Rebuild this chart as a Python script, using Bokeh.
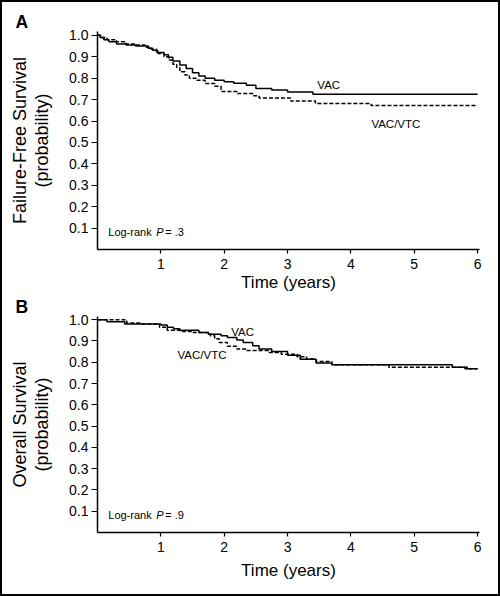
from bokeh.plotting import figure
from bokeh.layouts import column
from bokeh.models import Label, FixedTicker, Range1d, NumeralTickFormatter, Title, Spacer
from bokeh.embed import file_html
from bokeh.resources import INLINE

# ---- data ----
year_ticks = [1, 2, 3, 4, 5, 6]
prob_ticks = [0.1, 0.2, 0.3, 0.4, 0.5, 0.6, 0.7, 0.8, 0.9, 1.0]

# Panel A: failure-free survival
ffs_vac_t = [0, 0.04, 0.1, 0.18, 0.3, 0.45, 0.6, 0.8, 0.87, 0.95, 1.05, 1.12, 1.19, 1.3, 1.4,
             1.5, 1.6, 1.7, 1.85, 2.0, 2.15, 2.35, 2.5, 2.75, 3.0, 3.4, 6.0]
ffs_vac_s = [1.0, 0.99, 0.98, 0.97, 0.96, 0.955, 0.95, 0.94, 0.93, 0.92, 0.91, 0.898, 0.88, 0.862,
             0.845, 0.825, 0.81, 0.80, 0.79, 0.783, 0.776, 0.767, 0.752, 0.745, 0.736, 0.725, 0.725]
ffs_vtc_t = [0, 0.05, 0.15, 0.3, 0.45, 0.6, 0.75, 0.85, 0.93, 1.05, 1.12, 1.19, 1.25, 1.3, 1.38,
             1.45, 1.57, 1.7, 1.85, 1.95, 2.2, 2.45, 2.55, 3.05, 3.44, 4.32, 6.0]
ffs_vtc_s = [1.0, 0.99, 0.98, 0.97, 0.96, 0.955, 0.945, 0.935, 0.915, 0.9, 0.885, 0.865, 0.85, 0.83,
             0.815, 0.80, 0.79, 0.775, 0.762, 0.738, 0.728, 0.718, 0.708, 0.693, 0.682, 0.673, 0.673]

# Panel B: overall survival
os_vac_t = [0, 0.15, 0.43, 1.0, 1.1, 1.2, 1.3, 1.6, 1.75, 1.95, 2.05, 2.2, 2.3, 2.45, 2.55, 2.75,
            3.0, 3.2, 3.45, 3.7, 5.6, 5.8, 6.0]
os_vac_s = [1.0, 0.99, 0.98, 0.975, 0.965, 0.958, 0.95, 0.94, 0.932, 0.925, 0.916, 0.905, 0.893,
            0.877, 0.862, 0.85, 0.833, 0.814, 0.797, 0.788, 0.777, 0.769, 0.769]
os_vtc_t = [0, 0.46, 0.7, 0.98, 1.1, 1.3, 1.5, 1.78, 1.85, 1.92, 2.05, 2.2, 2.35, 2.7, 2.9, 3.15,
            3.3, 3.45, 3.7, 4.6, 5.85, 6.0]
os_vtc_s = [1.0, 0.985, 0.98, 0.965, 0.95, 0.945, 0.94, 0.924, 0.91, 0.893, 0.875, 0.862, 0.855,
            0.846, 0.838, 0.826, 0.815, 0.803, 0.788, 0.776, 0.769, 0.769]

FONT = "Liberation Sans"


def make_panel(height, top, bottom, ymax, letter, ylabel, vac_t, vac_s, vtc_t, vtc_s,
               vac_pos, vtc_pos, pval, xlabel_standoff):
    p = figure(width=496, height=height, output_backend="svg", toolbar_location=None,
               x_range=Range1d(0, 6.03), y_range=Range1d(0, ymax),
               min_border_left=95, min_border_right=19, min_border_top=top,
               min_border_bottom=bottom)
    p.title = Title(text=letter, align="left", offset=-82, standoff=0,
                    text_font=FONT, text_font_size="17.5px", text_font_style="bold",
                    text_color="black")
    p.outline_line_color = None
    p.grid.visible = False
    p.background_fill_color = "white"
    p.border_fill_color = "white"

    p.step(vac_t, vac_s, mode="after", line_color="black", line_width=1.5)
    p.step(vtc_t, vtc_s, mode="after", line_color="black", line_width=1.5, line_dash="4 2")

    xa = p.xaxis[0]
    xa.ticker = FixedTicker(ticks=year_ticks)
    xa.minor_tick_line_color = None
    xa.major_tick_in = 0
    xa.major_tick_out = 4
    xa.axis_line_width = 1.5
    xa.major_tick_line_width = 1.2
    xa.major_label_standoff = 5
    xa.major_label_text_font = FONT
    xa.major_label_text_font_size = "14px"
    xa.major_label_text_color = "black"
    xa.axis_label = "Time (years)"
    xa.axis_label_text_font = FONT
    xa.axis_label_text_font_size = "17px"
    xa.axis_label_text_font_style = "normal"
    xa.axis_label_text_color = "black"
    xa.axis_label_standoff = xlabel_standoff

    ya = p.yaxis[0]
    ya.ticker = FixedTicker(ticks=prob_ticks)
    ya.formatter = NumeralTickFormatter(format="0.0")
    ya.minor_tick_line_color = None
    ya.major_tick_in = 0
    ya.major_tick_out = 6
    ya.axis_line_width = 1.5
    ya.major_tick_line_width = 1.2
    ya.major_label_standoff = 3
    ya.major_label_text_font = FONT
    ya.major_label_text_font_size = "14px"
    ya.major_label_text_color = "black"
    ya.axis_label = ylabel
    ya.axis_label_text_font = FONT
    ya.axis_label_text_font_size = "18px"
    ya.axis_label_text_font_style = "normal"
    ya.axis_label_text_color = "black"
    ya.axis_label_text_line_height = 1.1
    ya.axis_label_standoff = 14

    # curve labels
    p.add_layout(Label(x=vac_pos[0], y=vac_pos[1], text="VAC", text_align="center",
                       text_baseline="middle", text_font=FONT, text_font_size="11.5px",
                       text_color="black"))
    p.add_layout(Label(x=vtc_pos[0], y=vtc_pos[1], text="VAC/VTC", text_align="center",
                       text_baseline="middle", text_font=FONT, text_font_size="11.5px",
                       text_color="black"))
    # log-rank annotation
    p.add_layout(Label(x=0.17, y=0.083, text="Log-rank", text_align="left",
                       text_baseline="middle", text_font=FONT, text_font_size="11px",
                       text_color="black"))
    p.add_layout(Label(x=0.17, y=0.083, x_offset=48, text="P", text_align="left",
                       text_baseline="middle", text_font=FONT, text_font_size="11px",
                       text_font_style="italic", text_color="black"))
    p.add_layout(Label(x=0.17, y=0.083, x_offset=57, text="= " + pval, text_align="left",
                       text_baseline="middle", text_font=FONT, text_font_size="11px",
                       text_color="black"))
    return p


pa = make_panel(285, 20, 45, 1.018, "A", "Failure-Free Survival\n(probability)",
                ffs_vac_t, ffs_vac_s, ffs_vtc_t, ffs_vtc_s, (3.65, 0.769), (4.71, 0.588), ".3", 1)
pb = make_panel(300, 20, 62, 1.015, "B", "Overall Survival\n(probability)",
                os_vac_t, os_vac_s, os_vtc_t, os_vtc_s, (2.29, 0.94), (1.65, 0.833), ".9", 6)

layout = column(Spacer(width=496, height=7), pa, pb, spacing=0,
                styles={"border": "2px solid black"})

open("out.html", "w").write(file_html(layout, INLINE))
